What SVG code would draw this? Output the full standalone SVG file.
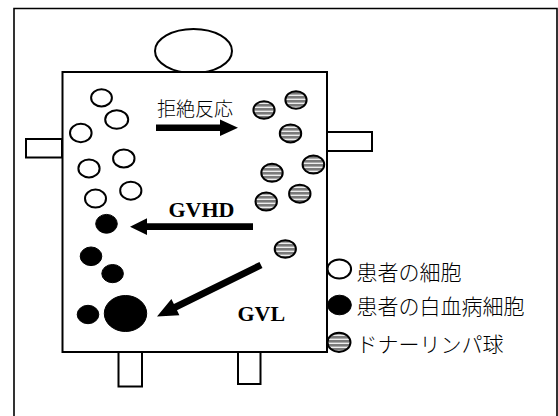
<svg xmlns="http://www.w3.org/2000/svg" width="558" height="416" viewBox="0 0 558 416">
<defs>
<pattern id="stripes" patternUnits="userSpaceOnUse" width="4" height="4">
<rect x="0" y="0" width="4" height="4" fill="#eeeeee"/>
<rect x="0" y="0" width="4" height="2.6" fill="#7a7a7a"/>
</pattern>
</defs>
<style>
.ln{fill:#fff;stroke:#000;stroke-width:2}
.pc{fill:#fff;stroke:#000;stroke-width:2}
.lk{fill:#000;stroke:#000;stroke-width:1}
.dl{fill:url(#stripes);stroke:#000;stroke-width:2}
.arr{fill:#000;stroke:none}
.jp{font-family:"Noto Sans CJK JP","Liberation Serif",sans-serif;font-weight:300;fill:#000}
.en{font-family:"Liberation Serif",serif;font-weight:bold;font-size:22px;fill:#000}
</style>
<rect x="0" y="0" width="558" height="416" fill="#fff"/>
<g id="frame">
<path d="M14,420 V8.5 H557 V420" fill="none" stroke="#000" stroke-width="1.6"/>
</g>
<g id="person">
<ellipse cx="193.5" cy="51" rx="38.5" ry="22" class="ln"/>
<rect x="26" y="139" width="36" height="18.5" class="ln"/>
<rect x="327" y="132" width="45" height="19" class="ln"/>
<rect x="118.5" y="352" width="23.5" height="34.5" class="ln"/>
<rect x="238" y="352" width="22.5" height="32" class="ln"/>
<rect x="62.5" y="72" width="264.5" height="280" class="ln"/>
</g>
<g id="patient-cells">
<ellipse id="pc1" cx="101.5" cy="97.8" rx="10.4" ry="8.6" class="pc"/>
<ellipse id="pc2" cx="116.7" cy="119.5" rx="11.5" ry="9.3" class="pc"/>
<ellipse id="pc3" cx="80.8" cy="133" rx="10.8" ry="9.2" class="pc"/>
<ellipse id="pc4" cx="123.8" cy="158.5" rx="10.7" ry="9" class="pc"/>
<ellipse id="pc5" cx="89" cy="168.4" rx="10.6" ry="9" class="pc"/>
<ellipse id="pc6" cx="130.8" cy="190.7" rx="10.6" ry="9" class="pc"/>
<ellipse id="pc7" cx="95.5" cy="198.6" rx="10.5" ry="9" class="pc"/>
</g>
<g id="leukemia-cells">
<ellipse id="lk1" cx="106.5" cy="223.8" rx="10.8" ry="9.4" class="lk"/>
<ellipse id="lk2" cx="91" cy="256.3" rx="10.8" ry="9.3" class="lk"/>
<ellipse id="lk3" cx="112.6" cy="273.6" rx="10.8" ry="9.1" class="lk"/>
<ellipse id="lk4" cx="88" cy="314.5" rx="10.8" ry="9.2" class="lk"/>
<ellipse id="lk5" cx="125.5" cy="313.5" rx="21.2" ry="18" class="lk"/>
</g>
<g id="donor-lymphocytes">
<ellipse id="dl1" cx="264" cy="110" rx="10.6" ry="8.7" class="dl"/>
<ellipse id="dl2" cx="296" cy="100" rx="10.6" ry="8.7" class="dl"/>
<ellipse id="dl3" cx="290.5" cy="133.4" rx="10.7" ry="9" class="dl"/>
<ellipse id="dl4" cx="313.4" cy="164.6" rx="10.8" ry="9" class="dl"/>
<ellipse id="dl5" cx="272" cy="172.8" rx="10.7" ry="9" class="dl"/>
<ellipse id="dl6" cx="299.8" cy="193.7" rx="10.7" ry="9" class="dl"/>
<ellipse id="dl7" cx="266.2" cy="201.6" rx="10.7" ry="9" class="dl"/>
<ellipse id="dl8" cx="285.3" cy="249" rx="10.6" ry="8.8" class="dl"/>
</g>
<g id="connectors">
<polygon id="arrow-rejection" class="arr" points="156,124.5 220,124.5 220,119.5 238,127.7 220,136 220,131 156,131"/>
<polygon id="arrow-gvhd" class="arr" points="253,223.3 147,223.3 147,218.3 130,226.7 147,235 147,230 253,230"/>
<polygon id="arrow-gvl" class="arr" points="259.5,261.9 173.9,304.1 171.4,299.1 157,316.5 179.4,315.3 177,310.3 262.5,268.1"/>
</g>
<g id="labels">
<text x="157" y="116" class="jp" font-size="19">拒絶反応</text>
<text x="168.5" y="216.5" class="en">GVHD</text>
<text x="237.5" y="320.5" class="en">GVL</text>
</g>
<g id="legend">
<ellipse cx="339.3" cy="269" rx="11.8" ry="9.6" class="pc"/>
<ellipse cx="339.5" cy="305" rx="11.8" ry="9.8" class="lk"/>
<ellipse cx="339" cy="342.3" rx="11.5" ry="9.6" class="dl"/>
<text x="356.5" y="280.3" class="jp" font-size="21">患者の細胞</text>
<text x="356.5" y="313.5" class="jp" font-size="21">患者の白血病細胞</text>
<text x="356.5" y="351.8" class="jp" font-size="21">ドナーリンパ球</text>
</g>
</svg>
